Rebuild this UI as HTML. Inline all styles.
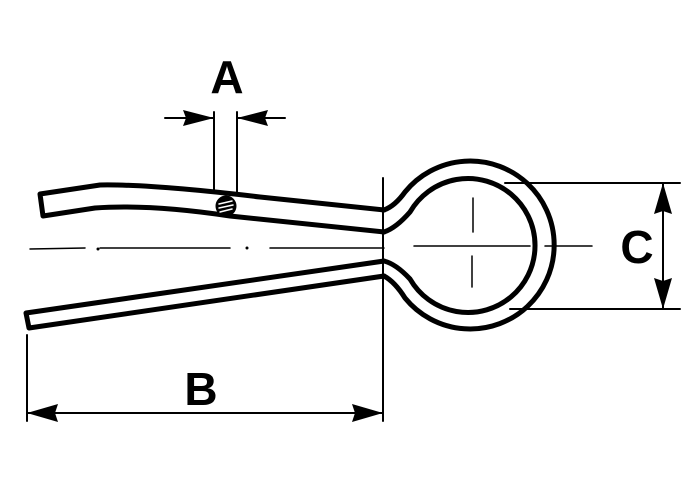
<!DOCTYPE html>
<html><head><style>html,body{margin:0;padding:0;background:#fff}svg{display:block}</style></head>
<body>
<svg width="700" height="483" viewBox="0 0 700 483" xmlns="http://www.w3.org/2000/svg">
<g fill="none" stroke="#000" stroke-linejoin="round" stroke-linecap="round">
<!-- upper arm -->
<path d="M384,210 L260,197 Q150,184 100,185 L40,194 L43,216 L95,208 Q150,204 230,216 L384,232" stroke-width="5"/>
<!-- lower arm -->
<path d="M384,261 L26,313 L29,328 L384,276" stroke-width="5"/>
<!-- ring outer -->
<path d="M384,210 Q395,206 405,192 A84,84 0 1 1 405,298 Q395,282 384,276" stroke-width="5"/>
<!-- ring inner -->
<path d="M384,232 Q396,228 410,212 A67,67 0 1 1 410,279 Q396,264 384,261" stroke-width="5"/>
<!-- pin -->
<circle cx="226" cy="206" r="9" fill="#000" stroke="#000" stroke-width="3"/>
<g stroke="#fff" stroke-width="1.5"><line x1="219" y1="204" x2="232" y2="201"/><line x1="219" y1="208" x2="233" y2="205"/><line x1="220" y1="212" x2="232" y2="209"/></g>
<!-- center lines -->
<path d="M30,249 L85,248 M100,248 L230,248 M270,248 L384,248" stroke-width="1.5"/>
<circle cx="98" cy="249" r="1" fill="#000"/><circle cx="247" cy="248" r="1" fill="#000"/>
<path d="M414,246 L530,246 M545,246 L592,246" stroke-width="1.5"/>
<path d="M473,198 L473,232 M472,256 L472,287" stroke-width="1.5"/>
<!-- A dim -->
<path d="M214,112 L214,192 M237,112 L237,192 M165,118 L214,118 M237,118 L285,118" stroke-width="2"/>
<!-- B dim -->
<path d="M27,335 L27,421 M383,178 L383,421 M27,413 L383,413" stroke-width="2"/>
<!-- C dim -->
<path d="M505,183 L680,183 M510,309 L680,309 M663,183 L663,309" stroke-width="2"/>
</g>
<g fill="#000">
<polygon points="214,118 183,110 186,118 183,126"/>
<polygon points="237,118 268,110 265,118 268,126"/>
<polygon points="27,413 58,404 55,413 58,422"/>
<polygon points="383,413 352,404 355,413 352,422"/>
<polygon points="663,183 654,214 663,211 672,214"/>
<polygon points="663,309 654,278 663,281 672,278"/>
</g>
<g font-family="Liberation Sans, sans-serif" font-weight="bold" font-size="46" text-anchor="middle">
<text x="227" y="93">A</text>
<text x="201" y="405">B</text>
<text x="637" y="263">C</text>
</g>
</svg>
</body></html>
